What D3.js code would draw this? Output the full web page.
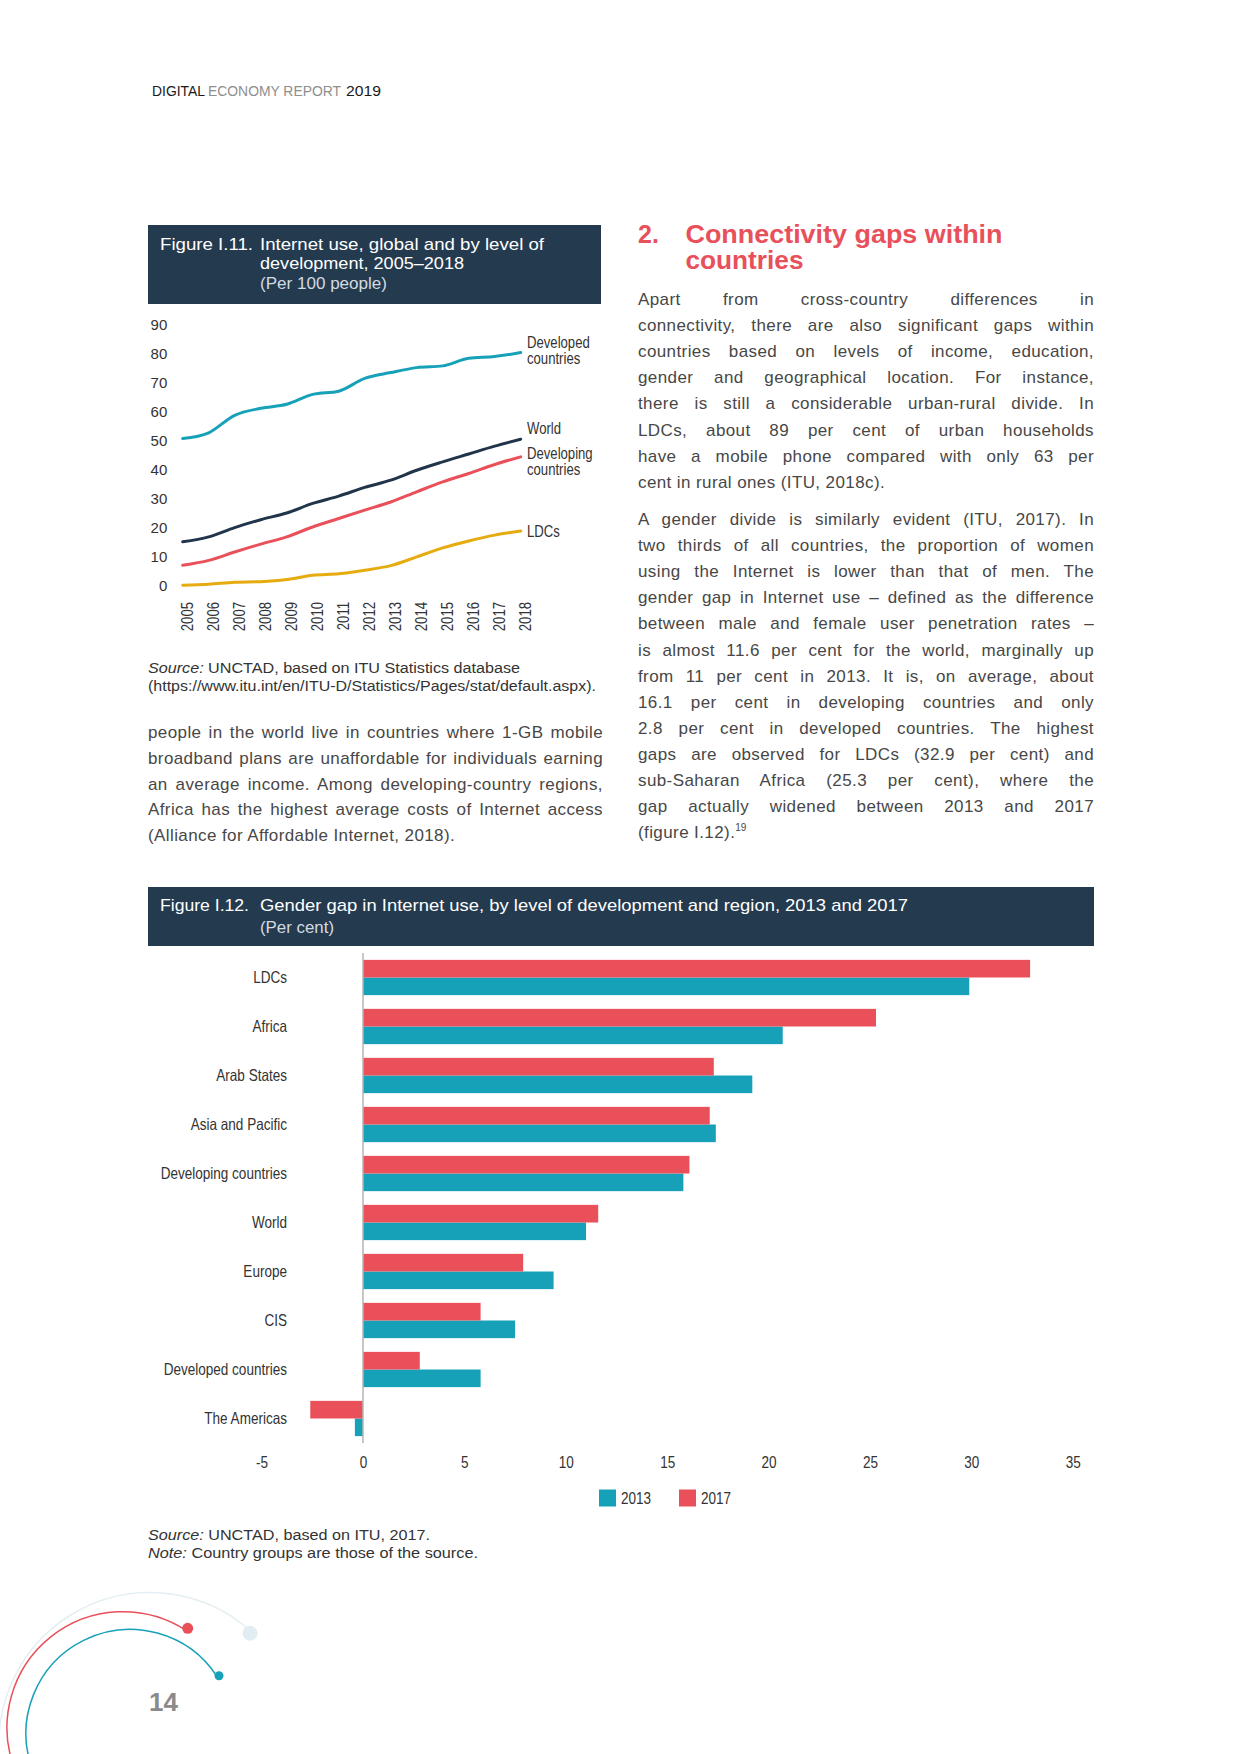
<!DOCTYPE html>
<html>
<head>
<meta charset="utf-8">
<title>Digital Economy Report 2019 - page 14</title>
<script src="https://cdn.jsdelivr.net/npm/d3@7/dist/d3.min.js"></script>
<style>
  body { margin: 0; background: #fff; }
  #page { position: relative; width: 1240px; height: 1754px; overflow: hidden;
          font-family: "Liberation Sans", Arial, sans-serif; }
  #page svg { position: absolute; left: 0; top: 0; }
  .ln { position: absolute; font-size: 17px; line-height: 26px; color: #474747;
        letter-spacing: 0.4px; text-align: left; }
  .just { text-align: justify; text-align-last: justify; }
  .ln sup { font-size: 10px; line-height: 0; vertical-align: 7px; letter-spacing: 0; }
</style>
</head>
<body>
<div id="page"></div>
<script>
// ---- Figure I.11 data (per 100 people) ----
const years = [2005,2006,2007,2008,2009,2010,2011,2012,2013,2014,2015,2016,2017,2018];
const developed  = [50.7,52.7,58.7,61.1,62.5,65.9,67.0,71.4,73.4,75.1,75.7,78.3,78.9,80.3];
const world      = [15.2,16.9,20.1,22.8,25.1,28.4,30.9,33.9,36.4,39.8,42.7,45.4,48.1,50.5];
const developing = [7.1,8.8,11.7,14.4,16.9,20.3,23.2,26.1,28.9,32.4,35.8,38.7,41.8,44.4];
const ldcs       = [0.3,0.6,1.3,1.5,2.2,3.7,4.2,5.4,7.0,10.0,13.1,15.5,17.5,18.9];
const yTicks1 = [0,10,20,30,40,50,60,70,80,90];

// ---- Figure I.12 data (per cent) ----
const regions = ['LDCs','Africa','Arab States','Asia and Pacific','Developing countries',
                 'World','Europe','CIS','Developed countries','The Americas'];
const gap2013 = [29.9,20.7,19.2,17.4,15.8,11.0,9.4,7.5,5.8,-0.4];
const gap2017 = [32.9,25.3,17.3,17.1,16.1,11.6,7.9,5.8,2.8,-2.6];
const xTicks2 = [-5,0,5,10,15,20,25,30,35];
const gapYears = ['2013','2017'];

const TEAL = '#17a1b9', RED = '#e9505a', NAVY = '#243a4f', GOLD = '#e6ab0f', DARK = '#20344a';
const LAB = '"Liberation Sans",Arial,sans-serif';

// squeeze text horizontally to mimic the narrow face used in the report
function condense(sel, f) {
  sel.each(function() {
    const w = this.getComputedTextLength();
    d3.select(this).attr('textLength', w * f).attr('lengthAdjust', 'spacingAndGlyphs');
  });
}

const page = d3.select('#page');
const svg = page.append('svg').attr('width', 1240).attr('height', 1754);

// running header
[['DIGITAL', 152, 53, '#1a1a1a'], ['ECONOMY REPORT', 208, 133, '#8e8e8e'], ['2019', 346, 35, '#1a1a1a']]
  .forEach(([t, x, w, c]) => {
    svg.append('text').attr('x', x).attr('y', 95.5).attr('font-size', 14).attr('fill', c)
      .attr('textLength', w).attr('lengthAdjust', 'spacingAndGlyphs').text(t);
  });

// figure title boxes
function titleBox(x, y, w, h, num, lines, sub, subY, widths) {
  svg.append('rect').attr('x', x).attr('y', y).attr('width', w).attr('height', h).attr('fill', NAVY);
  svg.append('text').attr('x', 160).attr('y', lines[0].y).attr('fill', '#fff').attr('font-size', 17)
    .attr('textLength', widths[0]).attr('lengthAdjust', 'spacingAndGlyphs').text(num);
  lines.forEach(l => {
    svg.append('text').attr('x', 260).attr('y', l.y).attr('fill', '#fff').attr('font-size', 17)
      .attr('textLength', l.w).attr('lengthAdjust', 'spacingAndGlyphs').text(l.t);
  });
  svg.append('text').attr('x', 260).attr('y', subY).attr('fill', '#d3dae1').attr('font-size', 16)
    .attr('textLength', widths[1]).attr('lengthAdjust', 'spacingAndGlyphs').text(sub);
}
titleBox(148, 225, 453, 79, 'Figure I.11.',
  [{t: 'Internet use, global and by level of', y: 250, w: 284},
   {t: 'development, 2005\u20132018', y: 269, w: 204}],
  '(Per 100 people)', 289, [93, 127]);
titleBox(148, 887, 946, 59, 'Figure I.12.',
  [{t: 'Gender gap in Internet use, by level of development and region, 2013 and 2017', y: 911, w: 648}],
  '(Per cent)', 933, [89, 74]);

// ================= Figure I.11 line chart =================
const x1 = d3.scalePoint().domain(years).range([182.7, 520.7]);
const y1 = d3.scaleLinear().domain([0, 90]).range([586, 324.3]);

const series = [
  {key: 'developed', values: developed, color: TEAL, label: ['Developed', 'countries'], dy: [-10.5, 5.8]},
  {key: 'world', values: world, color: DARK, label: ['World'], dy: [-11]},
  {key: 'developing', values: developing, color: RED, label: ['Developing', 'countries'], dy: [-3.8, 13]},
  {key: 'ldcs', values: ldcs, color: GOLD, label: ['LDCs'], dy: [0]}
];

const g1 = svg.append('g');
const line = d3.line().x((d, i) => x1(years[i])).y(d => y1(d)).curve(d3.curveMonotoneX);

g1.selectAll('.series').data(series).join('path')
  .attr('class', 'series').attr('fill', 'none')
  .attr('stroke', d => d.color).attr('stroke-width', 3)
  .attr('stroke-linejoin', 'round').attr('stroke-linecap', 'round')
  .attr('d', d => line(d.values));

// end labels
series.forEach(s => {
  const yEnd = y1(s.values[s.values.length - 1]);
  s.label.forEach((t, i) => {
    g1.append('text').attr('class', 'endlab').attr('x', 527).attr('y', yEnd + s.dy[i]).attr('dy', '0.35em')
      .attr('font-family', LAB).attr('font-size', 16).attr('fill', '#333').text(t);
  });
});
condense(g1.selectAll('.endlab'), 0.82);

// y axis labels
const yAxis1 = g1.append('g').attr('transform', 'translate(167.3,0)')
  .call(d3.axisLeft(y1).tickValues(yTicks1).tickSize(0).tickPadding(0));
yAxis1.select('.domain').remove();
yAxis1.selectAll('text').attr('font-family', LAB).attr('font-size', 15).attr('fill', '#333');

// rotated year labels
g1.selectAll('.yr').data(years).join('text').attr('class', 'yr')
  .attr('transform', d => `translate(${x1(d) + 5},602) rotate(-90)`)
  .attr('text-anchor', 'end').attr('dy', '0.35em')
  .attr('font-family', LAB).attr('font-size', 16).attr('fill', '#333')
  .text(d => d);
condense(g1.selectAll('.yr'), 0.82);

// source
const src1 = svg.append('text').attr('x', 148).attr('y', 672.5).attr('font-size', 14).attr('fill', '#333')
  .attr('textLength', 372).attr('lengthAdjust', 'spacingAndGlyphs');
src1.append('tspan').attr('font-style', 'italic').text('Source:');
src1.append('tspan').text(' UNCTAD, based on ITU Statistics database');
svg.append('text').attr('x', 148).attr('y', 690.5).attr('font-size', 14).attr('fill', '#333')
  .attr('textLength', 448).attr('lengthAdjust', 'spacingAndGlyphs')
  .text('(https://www.itu.int/en/ITU-D/Statistics/Pages/stat/default.aspx).');

// ================= Figure I.12 bar chart =================
const x2 = d3.scaleLinear().domain([-5, 35]).range([261.6, 1072.7]);
const y2 = d3.scaleBand().domain(regions).range([953, 1443]).paddingInner(0.28).paddingOuter(0.14);
const yIn = d3.scaleBand().domain(['2017', '2013']).range([0, y2.bandwidth()]);
const barColor = {'2013': TEAL, '2017': RED};

const rows = regions.map((r, i) => ({region: r, '2013': gap2013[i], '2017': gap2017[i]}));
const g2 = svg.append('g');

const grp = g2.selectAll('.grp').data(rows).join('g').attr('class', 'grp')
  .attr('transform', d => `translate(0,${y2(d.region)})`);
grp.selectAll('rect').data(d => gapYears.map(k => ({key: k, value: d[k]}))).join('rect')
  .attr('x', d => x2(Math.min(0, d.value)))
  .attr('y', d => yIn(d.key))
  .attr('width', d => Math.abs(x2(d.value) - x2(0)))
  .attr('height', yIn.bandwidth())
  .attr('fill', d => barColor[d.key]);

// zero line
g2.append('line').attr('x1', x2(0)).attr('x2', x2(0)).attr('y1', 953).attr('y2', 1443)
  .attr('stroke', '#b5b5b5').attr('stroke-width', 1.5);

// category labels
g2.selectAll('.cat').data(regions).join('text').attr('class', 'cat')
  .attr('x', 287).attr('y', d => y2(d) + y2.bandwidth() / 2).attr('dy', '0.35em')
  .attr('text-anchor', 'end').attr('font-family', LAB).attr('font-size', 16.5)
  .attr('fill', '#333').text(d => d);
condense(g2.selectAll('.cat'), 0.82);

// x axis tick labels
const xAxis2 = g2.append('g').attr('transform', 'translate(0,1443)')
  .call(d3.axisBottom(x2).tickValues(xTicks2).tickFormat(d => String(d)).tickSize(0).tickPadding(13));
xAxis2.select('.domain').remove();
xAxis2.selectAll('text').attr('font-family', LAB).attr('font-size', 16.5).attr('fill', '#333');
condense(xAxis2.selectAll('text'), 0.82);

// legend
const legX = {'2013': 599, '2017': 679};
const leg = g2.selectAll('.leg').data(gapYears).join('g').attr('class', 'leg')
  .attr('transform', d => `translate(${legX[d]},1498)`);
leg.append('rect').attr('x', 0).attr('y', -8.5).attr('width', 17).attr('height', 17)
  .attr('fill', d => barColor[d]);
leg.append('text').attr('x', 22).attr('dy', '0.35em').attr('font-family', LAB)
  .attr('font-size', 16.5).attr('fill', '#333').text(d => d);
condense(leg.selectAll('text'), 0.82);

// source / note
const src2 = svg.append('text').attr('x', 148).attr('y', 1540).attr('font-size', 14).attr('fill', '#333')
  .attr('textLength', 282).attr('lengthAdjust', 'spacingAndGlyphs');
src2.append('tspan').attr('font-style', 'italic').text('Source:');
src2.append('tspan').text(' UNCTAD, based on ITU, 2017.');
const note2 = svg.append('text').attr('x', 148).attr('y', 1558).attr('font-size', 14).attr('fill', '#333')
  .attr('textLength', 330).attr('lengthAdjust', 'spacingAndGlyphs');
note2.append('tspan').attr('font-style', 'italic').text('Note:');
note2.append('tspan').text(' Country groups are those of the source.');

// ================= section heading and body text =================
svg.append('text').attr('x', 638).attr('y', 243).attr('font-size', 25).attr('font-weight', 'bold')
  .attr('fill', '#e8505b').text('2.');
svg.append('text').attr('x', 685.5).attr('y', 243).attr('font-size', 25).attr('font-weight', 'bold')
  .attr('fill', '#e8505b').attr('textLength', 317).attr('lengthAdjust', 'spacingAndGlyphs')
  .text('Connectivity gaps within');
svg.append('text').attr('x', 685.5).attr('y', 269).attr('font-size', 25).attr('font-weight', 'bold')
  .attr('fill', '#e8505b').attr('textLength', 118).attr('lengthAdjust', 'spacingAndGlyphs')
  .text('countries');

const para1 = [
  'Apart from cross-country differences in',
  'connectivity, there are also significant gaps within',
  'countries based on levels of income, education,',
  'gender and geographical location. For instance,',
  'there is still a considerable urban-rural divide. In',
  'LDCs, about 89 per cent of urban households',
  'have a mobile phone compared with only 63 per',
  'cent in rural ones (ITU, 2018c).'
];
const para2 = [
  'A gender divide is similarly evident (ITU, 2017). In',
  'two thirds of all countries, the proportion of women',
  'using the Internet is lower than that of men. The',
  'gender gap in Internet use \u2013 defined as the difference',
  'between male and female user penetration rates \u2013',
  'is almost 11.6 per cent for the world, marginally up',
  'from 11 per cent in 2013. It is, on average, about',
  '16.1 per cent in developing countries and only',
  '2.8 per cent in developed countries. The highest',
  'gaps are observed for LDCs (32.9 per cent) and',
  'sub-Saharan Africa (25.3 per cent), where the',
  'gap actually widened between 2013 and 2017',
  '(figure I.12).<sup>19</sup>'
];
const paraLeft = [
  'people in the world live in countries where 1-GB mobile',
  'broadband plans are unaffordable for individuals earning',
  'an average income. Among developing-country regions,',
  'Africa has the highest average costs of Internet access',
  '(Alliance for Affordable Internet, 2018).'
];

function para(lines, left, top0, width, step) {
  lines.forEach((t, i) => {
    page.append('div').attr('class', i < lines.length - 1 ? 'ln just' : 'ln')
      .style('left', left + 'px').style('top', (top0 + i * step) + 'px')
      .style('width', width + 'px').html(t);
  });
}
para(para1, 638, 287, 456, 26.1);
para(para2, 638, 507, 456, 26.1);
para(paraLeft, 148, 720, 455, 25.8);

// ================= page furniture =================
const deco = svg.append('g');
function arcPath(cx, cy, r, a0, a1) {
  const p = d3.path();
  p.arc(cx, cy, r, a0 * Math.PI / 180, a1 * Math.PI / 180, false);
  return p.toString();
}
deco.append('path').attr('d', arcPath(150, 1743.5, 151, 165, 312))
  .attr('fill', 'none').attr('stroke', '#e4eff3').attr('stroke-width', 1.5);
deco.append('circle').attr('cx', 250).attr('cy', 1633.3).attr('r', 7.5).attr('fill', '#e1edf2');
deco.append('path').attr('d', arcPath(123, 1727.7, 116, 160, 303))
  .attr('fill', 'none').attr('stroke', RED).attr('stroke-width', 1.5);
deco.append('circle').attr('cx', 187.7).attr('cy', 1628.3).attr('r', 5.5).attr('fill', RED);
deco.append('path').attr('d', arcPath(130, 1733.4, 104, 160, 327))
  .attr('fill', 'none').attr('stroke', TEAL).attr('stroke-width', 1.5);
deco.append('circle').attr('cx', 219).attr('cy', 1675.7).attr('r', 4.5).attr('fill', TEAL);

svg.append('text').attr('x', 149).attr('y', 1711).attr('font-size', 26).attr('font-weight', 'bold')
  .attr('fill', '#8a8a8a').text('14');
</script>
</body>
</html>
